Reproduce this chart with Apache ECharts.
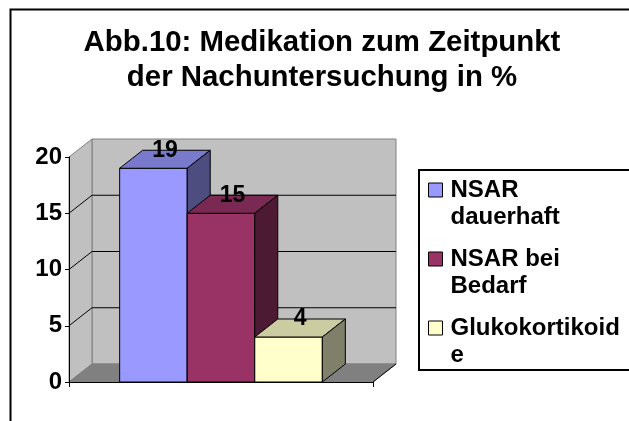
<!DOCTYPE html>
<html>
<head>
<meta charset="utf-8">
<script src="https://cdn.jsdelivr.net/npm/echarts@6/dist/echarts.min.js"></script>
<style>
html, body { margin: 0; padding: 0; background: #fff; }
#chart { width: 629px; height: 421px; }
</style>
</head>
<body>
<div id="chart"></div>
<script>
var categories = ['Medikation'];
var seriesNames = ['NSAR dauerhaft', 'NSAR bei Bedarf', 'Glukokortikoide'];
var legendLabels = ['NSAR\ndauerhaft', 'NSAR bei\nBedarf', 'Glukokortikoid\ne'];
var values = [19, 15, 4];
var yTicks = [0, 5, 10, 15, 20];

var frontColors = ['#9999FF', '#993366', '#FFFFCC'];
var topColors = ['#7A7ACC', '#7A2952', '#CCCCA3'];
var sideColors = ['#4D4D80', '#4D1A33', '#80806A'];
var FONT = '"Liberation Sans", Arial, sans-serif';
var DX = 23, DY = 18;
var yMax = yTicks[yTicks.length - 1];

var myChart = echarts.init(document.getElementById('chart'));

// back wall, side wall, floor and the gridlines on them
var wallRender = function (params, api) {
	var band = api.size([1, 0])[0];
	var c = api.coord([0, 0]);
	var L = c[0] - band / 2, R = c[0] + band / 2, y0 = c[1];
	var y1 = api.coord([0, yMax])[1];
	var children = [
		{ type: 'rect', shape: { x: L + DX, y: y1 - DY, width: R - L, height: y0 - y1 },
			style: { fill: '#C0C0C0', stroke: '#808080', lineWidth: 1 } },
		{ type: 'polygon', shape: { points: [[L, y1], [L + DX, y1 - DY], [L + DX, y0 - DY], [L, y0]] },
			style: { fill: '#C0C0C0', stroke: '#808080', lineWidth: 1 } },
		{ type: 'polygon', shape: { points: [[L, y0], [L + DX, y0 - DY], [R + DX, y0 - DY], [R, y0]] },
			style: { fill: '#808080', stroke: '#808080', lineWidth: 1 } },
		{ type: 'line', shape: { x1: R, y1: y0, x2: R + DX, y2: y0 - DY },
			style: { stroke: '#000', lineWidth: 1 } }
	];
	yTicks.forEach(function (t) {
		if (t === 0 || t === yMax) return;
		var y = api.coord([0, t])[1];
		children.push({ type: 'polyline', shape: { points: [[L, y], [L + DX, y - DY], [R + DX, y - DY]] },
			style: { stroke: '#000', lineWidth: 1, fill: null } });
	});
	return { type: 'group', children: children };
};

var barRender = function (i) {
	return function (params, api) {
		var p = api.coord([api.value(0), api.value(1)]);
		var base = api.coord([api.value(0), 0]);
		var band = api.size([1, 0])[0];
		var bw = band / 4.5;
		var left = p[0] - band / 2 + (0.75 + i) * bw;
		var right = left + bw;
		var y = p[1], y0 = base[1];
		return {
			type: 'group',
			children: [
				{ type: 'rect', shape: { x: left, y: y, width: bw, height: y0 - y },
					style: { fill: frontColors[i], stroke: '#000', lineWidth: 1 } },
				{ type: 'polygon', shape: { points: [[left, y], [left + DX, y - DY], [right + DX, y - DY], [right, y]] },
					style: { fill: topColors[i], stroke: '#000', lineWidth: 1 } },
				{ type: 'polygon', shape: { points: [[right, y], [right + DX, y - DY], [right + DX, y0 - DY], [right, y0]] },
					style: { fill: sideColors[i], stroke: '#000', lineWidth: 1 } },
				{ type: 'text', style: { text: String(api.value(1)), x: left + bw / 2 + DX / 2, y: y - DY,
					align: 'center', verticalAlign: 'middle', font: 'bold 23px ' + FONT, fill: '#000' } }
			]
		};
	};
};

var series = [{
	name: 'walls',
	type: 'custom',
	renderItem: wallRender,
	data: [[0, 0]],
	silent: true,
	z: 1
}];
seriesNames.forEach(function (name, i) {
	series.push({
		name: name,
		type: 'custom',
		renderItem: barRender(i),
		data: [[0, values[i]]],
		itemStyle: { color: frontColors[i], borderColor: '#000', borderWidth: 1 },
		z: 2 + i
	});
});

var option = {
	backgroundColor: '#fff',
	animation: false,
	title: {
		text: 'Abb.10: Medikation zum Zeitpunkt\nder Nachuntersuchung in %',
		left: 322,
		textAlign: 'center',
		top: 25,
		padding: 0,
		textStyle: { fontFamily: FONT, fontWeight: 'bold', fontSize: 29.4, lineHeight: 35, color: '#000' }
	},
	legend: {
		data: seriesNames,
		orient: 'vertical',
		left: 418,
		top: 169,
		padding: [-19.5, 10, 2, 10],
		itemGap: -12,
		itemWidth: 14,
		itemHeight: 14,
		icon: 'rect',
		borderWidth: 0,
		itemStyle: { borderColor: '#000', borderWidth: 1 },
		// leading blank line keeps the marker level with the first text line
		formatter: function (name) { return '\n' + legendLabels[seriesNames.indexOf(name)]; },
		textStyle: { fontFamily: FONT, fontWeight: 'bold', fontSize: 24, lineHeight: 27, color: '#000', padding: [0, 0, 0, 3] }
	},
	grid: { left: 69, right: 256, top: 157, bottom: 39 },
	xAxis: {
		type: 'category',
		data: categories,
		z: 10,
		axisLine: { lineStyle: { color: '#000', width: 1 } },
		axisTick: { show: true, length: 5, lineStyle: { color: '#000' } },
		axisLabel: { show: false }
	},
	yAxis: {
		type: 'value',
		min: 0,
		max: yMax,
		interval: 5,
		z: 10,
		axisLine: { show: true, lineStyle: { color: '#000', width: 1 } },
		axisTick: { show: true, length: 4, lineStyle: { color: '#000' } },
		axisLabel: { margin: 7, fontFamily: FONT, fontWeight: 'bold', fontSize: 24, color: '#000' },
		splitLine: { show: false }
	},
	graphic: [{
		type: 'polyline',
		shape: { points: [[10.5, 421], [10.5, 9.5], [629, 9.5]] },
		style: { stroke: '#000', lineWidth: 2, fill: null },
		silent: true
	}, {
		// legend frame, running off the right edge as in the original
		type: 'rect',
		shape: { x: 419, y: 170, width: 260, height: 200 },
		style: { stroke: '#000', lineWidth: 2, fill: null },
		silent: true
	}],
	series: series
};
myChart.setOption(option);
</script>
</body>
</html>
